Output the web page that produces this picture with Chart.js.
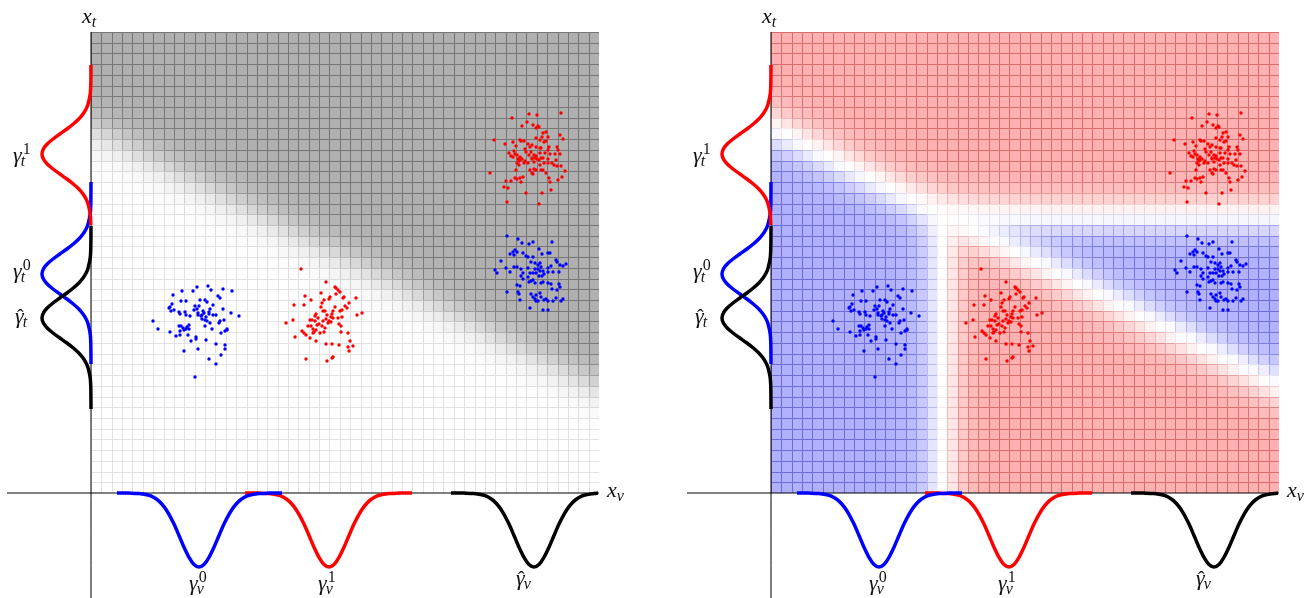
<!DOCTYPE html>
<html>
<head>
<meta charset="utf-8">
<script src="https://cdn.jsdelivr.net/npm/chart.js@4.4.0/dist/chart.umd.min.js"></script>
<style>
  body { margin: 0; background: #fff; }
  #wrap { position: relative; width: 1313px; height: 598px; }
  canvas { position: absolute; top: 0; }
  #left { left: 0; }
  #right { left: 680px; }
</style>
</head>
<body>
<div id="wrap">
  <canvas id="left" width="680" height="598"></canvas>
  <canvas id="right" width="633" height="598"></canvas>
</div>
<script>
// data units: origin at the axes crossing, 1 unit ~ 1 px of the figure
const PLOT_W = 508;
const PLOT_H = 461;
const GRID_COLS = 49;
const GRID_ROWS = 43;

// boundaries
const DIAG_Y0 = 366;       // diagonal boundary height at x = 0
const DIAG_SLOPE = -0.51;
const JUNCTION_X = 171;    // where vertical / horizontal boundaries meet the diagonal
const JUNCTION_Y = 278;
const BAND_GRAY = 20;      // softness of the transitions
const BAND_DIV = 20;

// point clouds
const BLUE_A = [[117,207],[106,206],[132,204],[141,202],[102,202],[120,203],[91,202],[82,198],[129,195],[127,197],[109,193],[114,193],[116,191],[90,192],[95,192],[79,186],[80,182],[83,183],[88,181],[89,179],[94,181],[95,178],[99,177],[106,184],[107,180],[107,178],[122,188],[119,184],[118,181],[132,184],[118,179],[110,177],[111,174],[114,173],[115,176],[122,178],[125,178],[113,180],[116,172],[119,170],[129,172],[128,170],[133,173],[140,180],[148,177],[62,172],[67,164],[79,161],[88,167],[90,167],[92,165],[93,163],[96,166],[98,168],[95,164],[98,164],[85,157],[89,162],[89,158],[114,167],[121,164],[105,156],[105,154],[97,158],[100,152],[115,153],[130,160],[134,162],[136,164],[136,163],[125,149],[134,148],[134,144],[107,144],[93,142],[130,138],[118,134],[125,129],[104,116],[111,178],[112,182],[104,187],[103,183],[108,187],[78,185],[81,189]];
const RED_A = [[210,224],[235,211],[244,206],[245,205],[247,203],[249,201],[230,200],[214,197],[253,196],[252,195],[239,196],[238,194],[220,193],[233,193],[231,190],[245,199],[265,195],[203,188],[213,188],[258,190],[254,187],[256,185],[244,186],[249,182],[251,183],[230,186],[232,182],[234,182],[242,182],[241,179],[271,180],[266,178],[225,179],[224,177],[221,173],[219,173],[224,172],[236,178],[240,176],[238,172],[240,171],[237,170],[251,176],[247,175],[250,167],[248,169],[195,170],[202,173],[217,167],[220,167],[226,168],[228,169],[232,172],[231,167],[234,165],[222,164],[225,163],[222,160],[223,161],[229,160],[233,161],[211,162],[213,160],[215,158],[250,161],[257,160],[204,156],[219,155],[225,152],[259,152],[235,149],[241,149],[248,148],[262,147],[257,146],[258,142],[242,136],[241,135],[236,132],[215,134],[242,175],[227,175],[235,174]];
const RED_B = [[470,380],[438,379],[446,378],[421,375],[436,371],[431,367],[442,368],[447,367],[448,366],[445,365],[452,360],[455,361],[451,356],[457,356],[455,352],[453,351],[445,355],[449,353],[469,358],[472,354],[403,353],[414,349],[422,351],[425,347],[429,353],[430,352],[433,352],[437,349],[441,348],[439,346],[434,344],[435,341],[450,345],[458,346],[457,343],[466,346],[467,343],[445,346],[449,345],[418,340],[423,342],[424,339],[426,338],[420,337],[422,336],[429,336],[431,334],[427,334],[428,332],[429,333],[426,330],[428,328],[440,341],[438,338],[443,338],[445,337],[441,335],[441,334],[444,335],[446,334],[450,335],[452,335],[449,340],[454,340],[459,339],[464,339],[469,339],[434,332],[437,330],[433,330],[443,331],[448,333],[449,328],[453,330],[457,334],[457,330],[461,330],[465,333],[463,328],[466,327],[470,327],[399,320],[425,323],[439,323],[443,324],[445,323],[441,320],[442,319],[450,323],[452,323],[455,320],[474,322],[415,312],[420,312],[424,315],[426,314],[429,315],[432,316],[430,311],[458,315],[459,311],[471,316],[467,313],[413,306],[417,305],[460,303],[435,300],[451,300],[416,291],[448,289]];
const BLUE_B = [[416,257],[427,254],[431,250],[438,249],[442,251],[461,251],[424,243],[422,241],[426,241],[419,239],[423,238],[432,240],[435,237],[448,244],[451,239],[457,240],[459,240],[410,232],[415,225],[404,223],[406,220],[419,221],[423,226],[426,226],[430,224],[437,236],[442,236],[440,231],[444,230],[447,228],[449,230],[450,226],[465,233],[466,231],[469,228],[472,227],[475,229],[460,227],[457,225],[437,225],[439,220],[442,220],[444,224],[447,224],[445,220],[449,222],[452,222],[453,219],[457,221],[451,217],[432,220],[430,217],[437,216],[448,217],[462,221],[468,221],[426,208],[429,207],[432,214],[438,211],[440,212],[442,213],[444,210],[450,210],[452,211],[457,210],[460,209],[468,209],[469,206],[466,203],[461,204],[416,201],[427,201],[428,199],[440,199],[442,196],[445,198],[449,200],[450,196],[445,192],[447,192],[444,194],[453,193],[455,194],[457,192],[465,195],[472,194],[470,192],[462,192],[429,193],[439,185],[452,183],[457,183]];

// marginal curves: profile (offset from centre, depth)
const BOTTOM_DX = [-70,-60,-50,-45,-40,-35,-30,-25,-20,-15,-10,-5,0,5,10,15,20,25,30,35,40,45,50,60,70];
const BOTTOM_DEPTH = [0.1,0.5,2.3,4.5,8.1,13.6,21.3,31.1,42.5,54.2,64.4,71.5,74,71.5,64.4,54.2,42.5,31.1,21.3,13.6,8.1,4.5,2.3,0.5,0.1];
const SIDE_DY = [-70,-60,-50,-45,-40,-35,-30,-25,-20,-15,-10,-5,0,5,10,15,20,25,30,35,40,45,50,60,70];
const SIDE_BULGE = [0.2,0.8,2.9,4.9,8.0,12.2,17.7,24.1,31.1,38.0,43.8,47.6,49,47.6,43.8,38.0,31.1,24.1,17.7,12.2,8.0,4.9,2.9,0.8,0.2];

// [centre, from, to]
const V_BLUE = [108, -82, 83];
const V_RED = [238, -84, 83];
const V_HAT = [443, -83, 64];
const T_RED = [339, -71, 89];
const T_BLUE = [219, -90, 92];
const T_HAT = [175, -91, 92];

const LABELS = [
  { base: 'x', sub: 't', sup: '', hat: false, x: -9, y: 470 },
  { base: 'x', sub: 'v', sup: '', hat: false, x: 516, y: -4 },
  { base: 'γ', sub: 't', sup: '1', hat: false, x: -78, y: 331 },
  { base: 'γ', sub: 't', sup: '0', hat: false, x: -78, y: 215 },
  { base: 'γ', sub: 't', sup: '', hat: true, x: -76, y: 170 },
  { base: 'γ', sub: 'v', sup: '0', hat: false, x: 98, y: -97 },
  { base: 'γ', sub: 'v', sup: '1', hat: false, x: 227, y: -97 },
  { base: 'γ', sub: 'v', sup: '', hat: true, x: 425, y: -92 }
];

const FONT = "'Liberation Serif', 'DejaVu Serif', serif";

function bottomCurve(c) {
  const [mid, lo, hi] = c;
  const pts = [{ x: mid + lo, y: 0 }];
  BOTTOM_DX.forEach((dx, i) => {
    if (dx > lo && dx < hi) pts.push({ x: mid + dx, y: -BOTTOM_DEPTH[i] });
  });
  pts.push({ x: mid + hi, y: 0 });
  return pts;
}

function sideCurve(c) {
  const [mid, lo, hi] = c;
  const pts = [{ x: 0, y: mid + hi }];
  for (let i = SIDE_DY.length - 1; i >= 0; i--) {
    const dy = SIDE_DY[i];
    if (dy > lo && dy < hi) pts.push({ x: -SIDE_BULGE[i], y: mid + dy });
  }
  pts.push({ x: 0, y: mid + lo });
  return pts;
}

function cloud(arr) {
  return arr.map(p => ({ x: p[0], y: p[1] }));
}

function field(px, py, mode) {
  const d1 = (py - (DIAG_Y0 + DIAG_SLOPE * px)) / Math.sqrt(1 + DIAG_SLOPE * DIAG_SLOPE);
  if (mode === 'gray') return (1 + Math.tanh(d1 / BAND_GRAY)) / 2;
  const d2 = px - JUNCTION_X;
  const d3 = py - JUNCTION_Y;
  return Math.tanh(d1 / BAND_DIV) * Math.tanh(Math.max(d3, -d2) / BAND_DIV);
}

function cellStyle(v, mode) {
  if (mode === 'gray') {
    const g = Math.round(255 - 79 * v);
    return { fill: `rgb(${g},${g},${g})`, line: `rgba(0,0,0,${0.11 + 0.22 * v})` };
  }
  const a = Math.pow(Math.abs(v), 1.5);
  const g = Math.round(255 - 79 * a);
  if (v >= 0) return { fill: `rgb(255,${g},${g})`, line: `rgba(150,0,0,${0.08 + 0.3 * a})` };
  return { fill: `rgb(${g},${g},255)`, line: `rgba(0,0,150,${0.08 + 0.3 * a})` };
}

const heatmapPlugin = {
  id: 'heatmap',
  beforeDatasetsDraw(chart, args, opts) {
    const { ctx, scales: { x, y } } = chart;
    const cw = PLOT_W / GRID_COLS, ch = PLOT_H / GRID_ROWS;
    ctx.save();
    ctx.lineWidth = 1;
    for (let i = 0; i < GRID_COLS; i++) {
      for (let j = 0; j < GRID_ROWS; j++) {
        const x0 = Math.round(x.getPixelForValue(i * cw));
        const x1 = Math.round(x.getPixelForValue((i + 1) * cw));
        const y0 = Math.round(y.getPixelForValue((j + 1) * ch));
        const y1 = Math.round(y.getPixelForValue(j * ch));
        const s = cellStyle(field((i + 0.5) * cw, (j + 0.5) * ch, opts.mode), opts.mode);
        ctx.fillStyle = s.fill;
        ctx.fillRect(x0, y0, x1 - x0, y1 - y0);
        ctx.strokeStyle = s.line;
        ctx.beginPath();
        ctx.moveTo(x0 + 0.5, y1);
        ctx.lineTo(x0 + 0.5, y0 + 0.5);
        ctx.lineTo(x1, y0 + 0.5);
        ctx.stroke();
      }
    }
    ctx.restore();
  }
};

const labelPlugin = {
  id: 'mathLabels',
  afterDraw(chart) {
    const { ctx, scales: { x, y } } = chart;
    ctx.save();
    ctx.fillStyle = '#111';
    ctx.textBaseline = 'alphabetic';
    LABELS.forEach(l => {
      const px = x.getPixelForValue(l.x), py = y.getPixelForValue(l.y);
      ctx.font = 'italic 22px ' + FONT;
      ctx.textAlign = 'left';
      ctx.fillText(l.base, px, py);
      const w = ctx.measureText(l.base).width;
      if (l.hat) {
        ctx.font = '20px ' + FONT;
        ctx.textAlign = 'center';
        ctx.fillText('ˆ', px + w / 2 + 1, py + 1);
        ctx.textAlign = 'left';
      }
      if (l.sup) {
        ctx.font = '16px ' + FONT;
        ctx.fillText(l.sup, px + w + 1, py - 8);
      }
      if (l.sub) {
        ctx.font = 'italic 16px ' + FONT;
        ctx.fillText(l.sub, px + w - (l.base === 'γ' ? 1 : 0), py + 4);
      }
    });
    ctx.restore();
  }
};

function lineSet(data, color, width) {
  return {
    data: data,
    showLine: true,
    borderColor: color,
    borderWidth: width,
    pointRadius: 0,
    tension: 0.3,
    fill: false,
    clip: false
  };
}

function dotSet(data, color) {
  return {
    data: data,
    backgroundColor: color,
    borderWidth: 0,
    pointRadius: 1.7,
    showLine: false
  };
}

function makePanel(id, mode, xMax) {
  return new Chart(document.getElementById(id), {
    type: 'scatter',
    data: {
      datasets: [
        dotSet(cloud(BLUE_A), '#0000ff'),
        dotSet(cloud(RED_A), '#ff0000'),
        dotSet(cloud(RED_B), '#ff0000'),
        dotSet(cloud(BLUE_B), '#0000ff'),
        lineSet(sideCurve(T_HAT), '#000000', 3.5),
        lineSet(sideCurve(T_RED), '#ff0000', 3.5),
        lineSet(sideCurve(T_BLUE), '#0000ff', 3.5),
        lineSet(bottomCurve(V_HAT), '#000000', 3.5),
        lineSet(bottomCurve(V_BLUE), '#0000ff', 3.5),
        lineSet(bottomCurve(V_RED), '#ff0000', 3.5),
        lineSet([{ x: -84, y: 0 }, { x: PLOT_W, y: 0 }], '#000000', 1),
        lineSet([{ x: 0, y: PLOT_H }, { x: 0, y: -105 }], '#000000', 1)
      ]
    },
    options: {
      responsive: false,
      devicePixelRatio: 1,
      animation: false,
      events: [],
      layout: { padding: 0, autoPadding: false },
      scales: {
        x: { type: 'linear', display: false, min: -91, max: xMax },
        y: { type: 'linear', display: false, min: -105, max: 493 }
      },
      plugins: {
        legend: { display: false },
        tooltip: { enabled: false },
        heatmap: { mode: mode }
      }
    },
    plugins: [heatmapPlugin, labelPlugin]
  });
}

makePanel('left', 'gray', 589);
makePanel('right', 'diverging', 542);
</script>
</body>
</html>
